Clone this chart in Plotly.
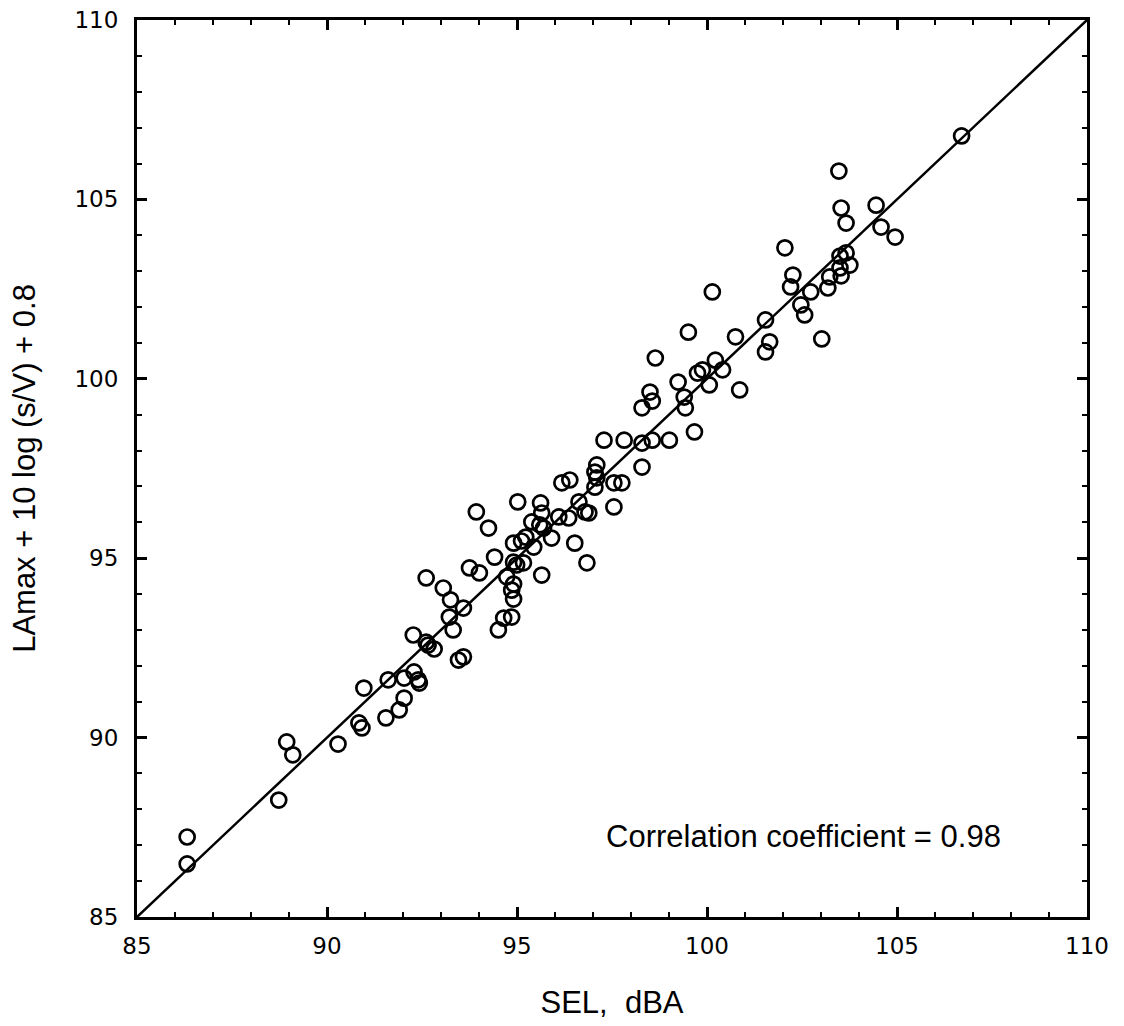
import plotly.graph_objects as go

# SEL, dBA (x) and LAmax + 10 log(s/V) + 0.8 (y)
sel = [86.32, 86.32, 88.73, 88.94, 89.10, 90.29, 90.84, 90.92, 91.55, 91.90,
       92.03, 90.97, 91.61, 92.03, 92.29, 92.40, 92.43, 92.27, 92.61, 92.66,
       92.82, 93.46, 93.59, 92.61, 93.06, 93.25, 93.59, 93.22, 93.32, 94.51,
       94.65, 94.86, 94.91, 93.93, 94.25, 93.75, 94.01, 94.41, 94.73, 94.86,
       94.91, 94.91, 94.99, 95.17, 94.91, 95.12, 95.23, 95.44, 95.65, 95.02,
       95.62, 95.65, 95.39, 95.60, 95.70, 95.91, 96.10, 96.36, 96.52, 96.84,
       96.63, 96.79, 96.89, 96.18, 96.39, 97.10, 97.05, 97.10, 97.05, 97.55,
       97.76, 97.55, 97.29, 97.82, 98.29, 98.56, 99.01, 98.29, 98.29, 98.50,
       98.56, 98.64, 99.24, 99.40, 99.43, 99.67, 99.51, 99.75, 99.88, 100.06,
       100.22, 100.41, 100.86, 100.14, 100.75, 101.65, 101.54, 101.54, 102.47, 102.57,
       102.05, 102.20, 102.26, 102.73, 103.02, 103.18, 103.23, 103.50, 103.53, 103.50,
       103.66, 103.76, 103.47, 103.53, 103.66, 104.45, 104.58, 104.95, 106.70]

lamax_adj = [87.23, 86.48, 88.26, 89.88, 89.52, 89.82, 90.41, 90.27, 90.55, 90.77,
             91.10, 91.38, 91.61, 91.66, 91.83, 91.61, 91.52, 92.86, 92.66, 92.58,
             92.47, 92.16, 92.25, 94.45, 94.17, 93.84, 93.61, 93.36, 93.00, 93.00,
             93.33, 93.36, 93.86, 96.29, 95.84, 94.73, 94.59, 95.03, 94.48, 94.11,
             94.28, 94.89, 94.81, 94.87, 95.42, 95.48, 95.59, 95.31, 94.53, 96.57,
             96.54, 96.26, 96.01, 95.93, 95.84, 95.56, 96.15, 96.12, 95.42, 94.87,
             96.57, 96.29, 96.26, 97.10, 97.18, 97.60, 97.40, 97.24, 96.98, 97.10,
             97.10, 96.43, 98.29, 98.29, 98.21, 98.29, 98.29, 97.54, 99.19, 99.63,
             99.38, 100.58, 99.91, 99.49, 99.19, 98.52, 101.30, 100.16, 100.25, 99.83,
             100.52, 100.25, 99.69, 102.42, 101.17, 101.03, 100.75, 101.64, 102.06, 101.78,
             103.65, 102.56, 102.89, 102.42, 101.11, 102.53, 102.84, 103.09, 102.87, 103.42,
             103.51, 103.17, 105.79, 104.76, 104.34, 104.84, 104.23, 103.95, 106.77]

line_x = [85, 110]
line_y = [85, 110]

tick_vals = [85, 90, 95, 100, 105, 110]
tick_text = ["85", "90", "95", "100", "105", "110"]

x_title = "SEL,  dBA"
y_title = "LAmax + 10 log (s/V) + 0.8"
note = "Correlation coefficient = 0.98"

fig = go.Figure()
fig.add_trace(go.Scatter(x=line_x, y=line_y, mode="lines",
                         line=dict(color="black", width=2.5), showlegend=False,
                         hoverinfo="skip"))
fig.add_trace(go.Scatter(x=sel, y=lamax_adj, mode="markers",
                         marker=dict(symbol="circle-open", size=15,
                                     line=dict(color="black", width=2.7),
                                     color="black"),
                         showlegend=False))

axis_common = dict(
    range=[85, 110], tickvals=tick_vals, ticktext=tick_text,
    showgrid=False, zeroline=False, showline=True, linecolor="black",
    linewidth=3, mirror="allticks", ticks="inside", ticklen=10, tickwidth=2.5,
    tickcolor="black",
    tickfont=dict(family="DejaVu Sans", size=23, color="black"),
    minor=dict(ticks="inside", ticklen=5, tickwidth=2, tickcolor="black",
               dtick=1, showgrid=False),
)

fig.update_layout(
    width=1124, height=1026,
    margin=dict(l=137, r=37, t=20, b=109, autoexpand=False),
    paper_bgcolor="white", plot_bgcolor="white",
    xaxis=dict(**axis_common, ticklabelstandoff=6,
               title=dict(text=x_title, standoff=34,
                          font=dict(family="Liberation Sans, Arial", size=31, color="black"))),
    yaxis=dict(**axis_common, ticklabelstandoff=11,
               title=dict(text=y_title, standoff=30,
                          font=dict(family="Liberation Sans, Arial", size=31, color="black"))),
    annotations=[dict(x=107.8, y=87.25, xref="x", yref="y", text=note,
                      showarrow=False, xanchor="right", yanchor="middle",
                      font=dict(family="Liberation Sans, Arial", size=31, color="black"))],
)

fig.write_html("out.html")
